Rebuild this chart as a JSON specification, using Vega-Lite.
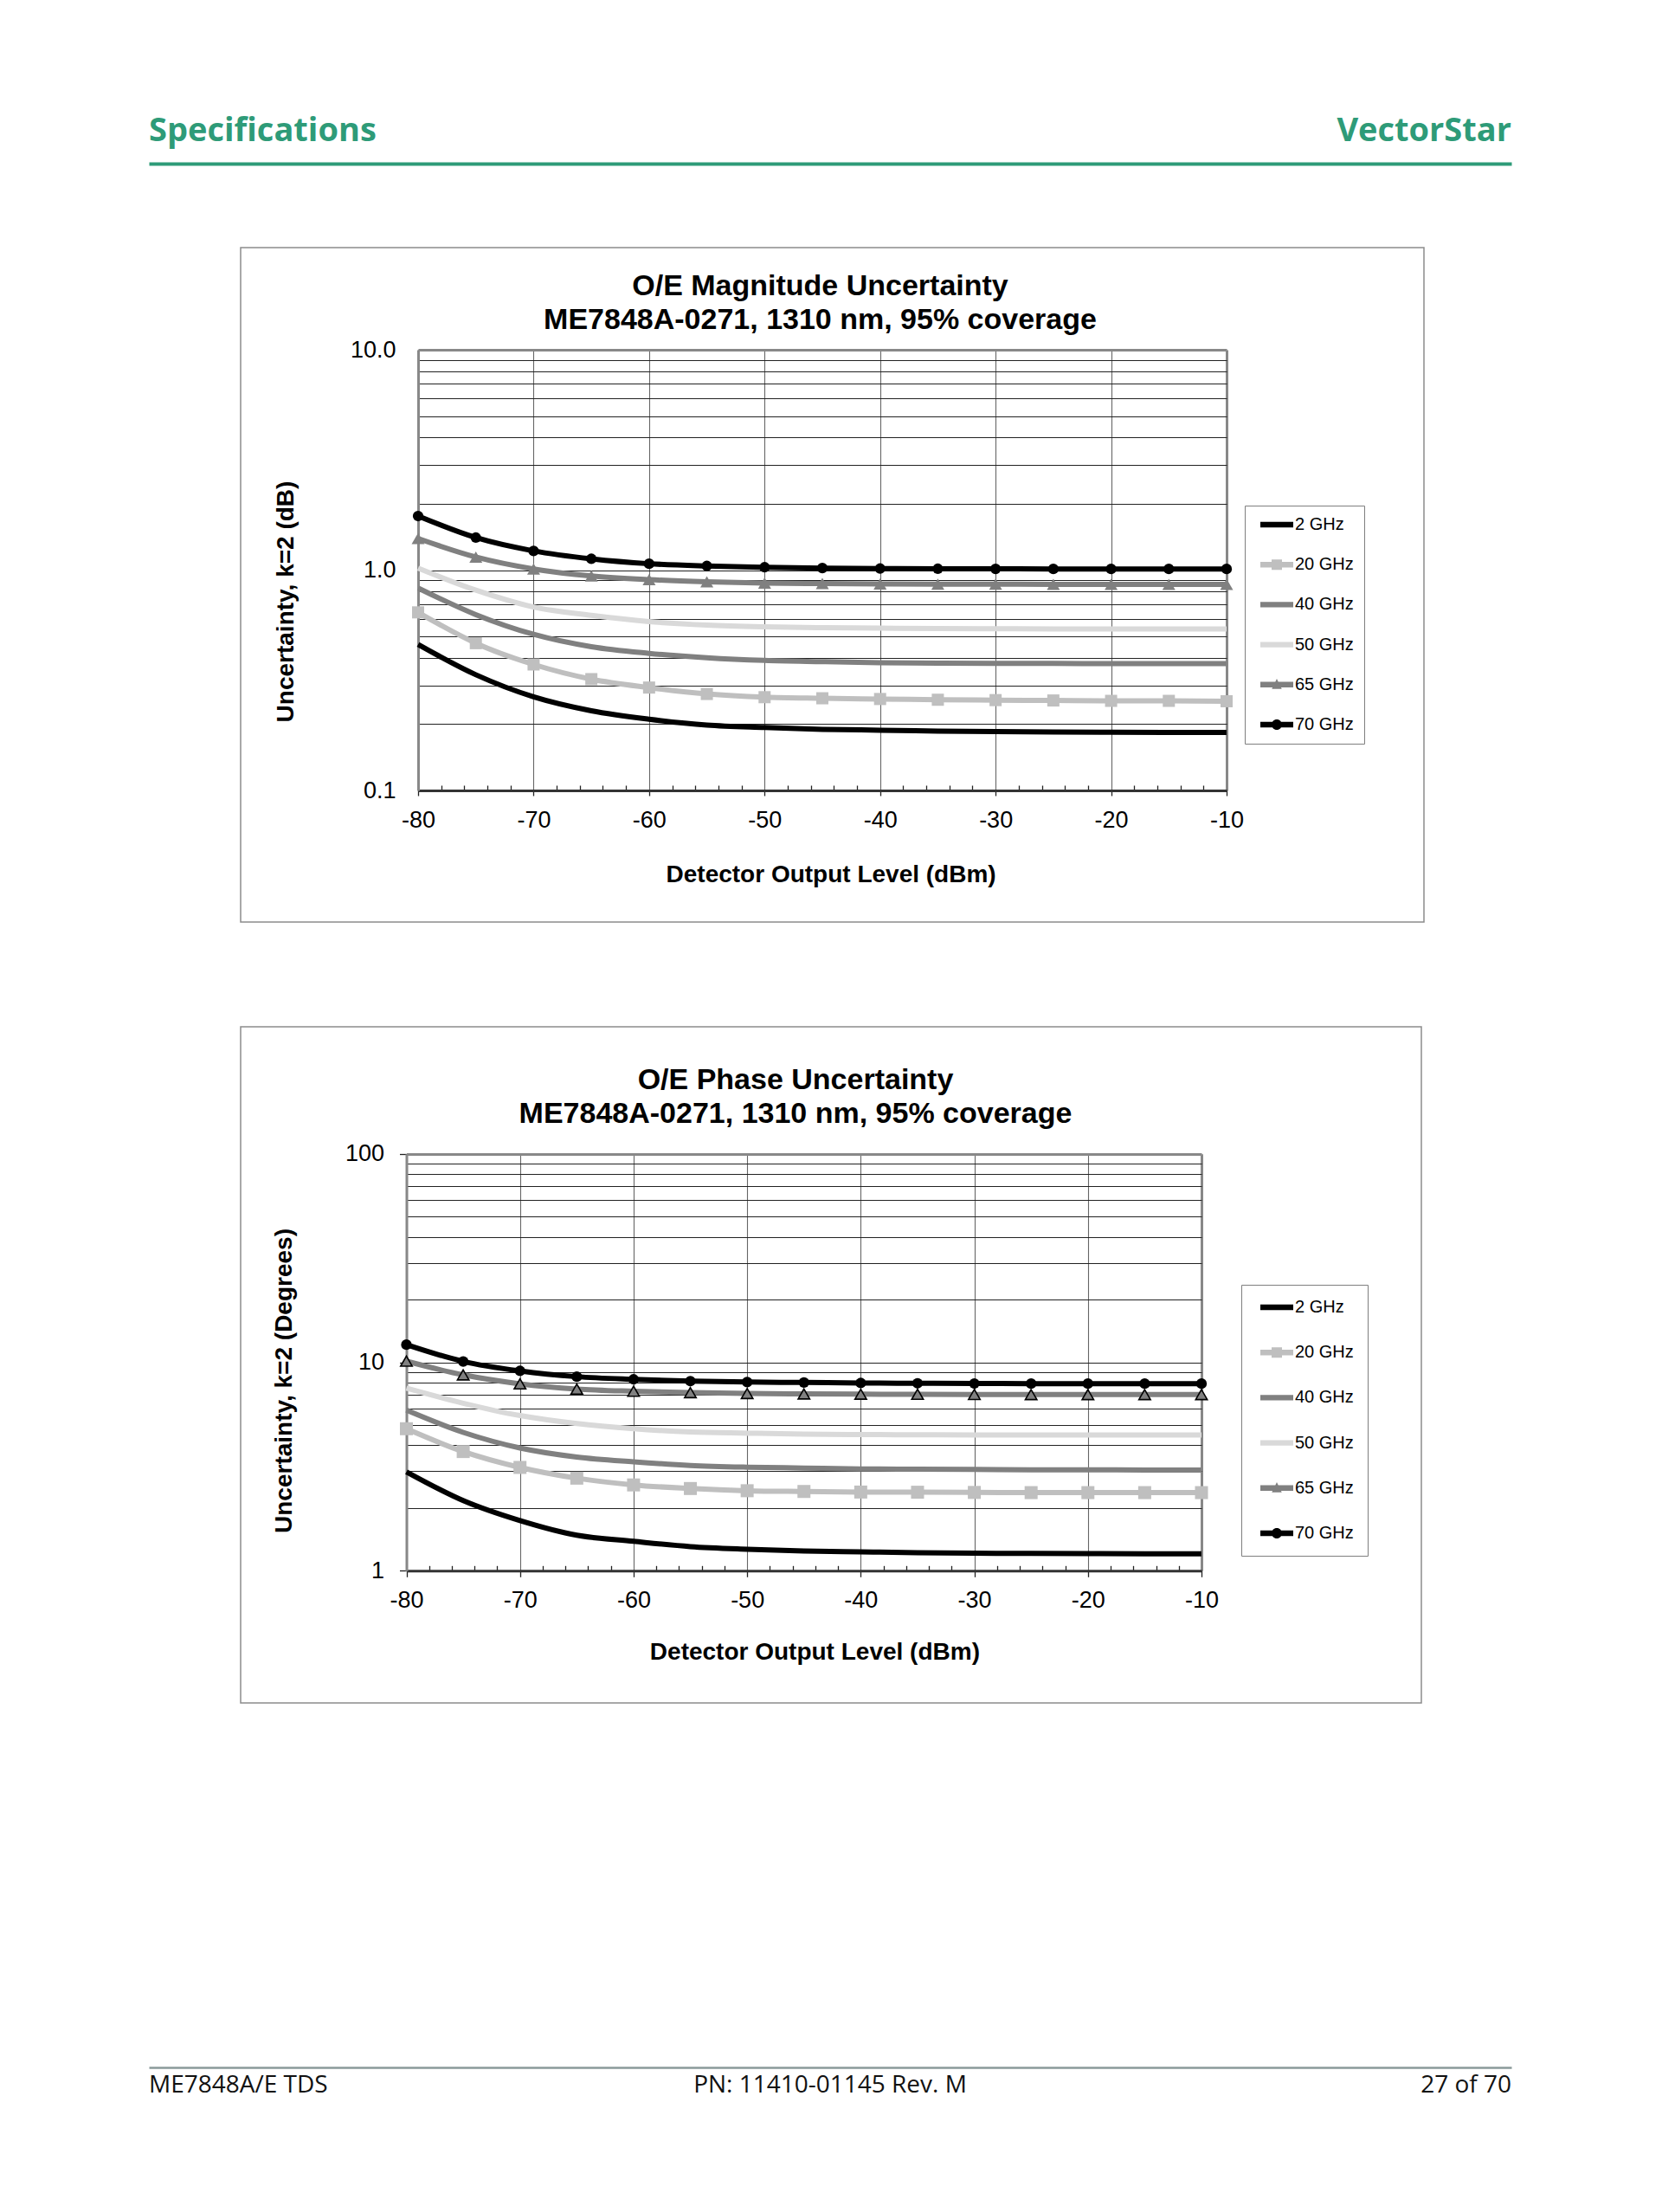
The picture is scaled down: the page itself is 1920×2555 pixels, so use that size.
{
  "$schema": "https://vega.github.io/schema/vega-lite/v6.json",
  "background": "white",
  "padding": {"left": 171, "top": 0, "right": 10, "bottom": 10},
  "bounds": "flush",
  "spacing": 121,
  "resolve": {
    "scale": {"stroke": "independent", "shape": "independent", "fill": "independent"},
    "legend": {"stroke": "independent", "shape": "independent", "fill": "independent"}
  },
  "config": {
    "view": {"stroke": "#8c8c8c", "strokeWidth": 1.5},
    "axis": {"labelFont": "Liberation Sans", "titleFont": "Liberation Sans", "labelColor": "#000000", "titleColor": "#000000"},
    "title": {"font": "Liberation Sans", "fontSize": 34, "fontWeight": "bold", "color": "#000000", "anchor": "middle", "frame": "group", "lineHeight": 39.5},
    "legend": {"labelFont": "Liberation Sans", "labelFontSize": 20, "labelColor": "#000000", "symbolSize": 100, "symbolStrokeWidth": 0, "symbolOpacity": 1, "labelOffset": 26, "strokeColor": "#7f7f7f"}
  },
  "datasets": {
    "mag": [
      {"f":"2 GHz","x":-80,"v":0.46},{"f":"2 GHz","x":-75,"v":0.335},{"f":"2 GHz","x":-70,"v":0.266},{"f":"2 GHz","x":-65,"v":0.23},{"f":"2 GHz","x":-60,"v":0.2105},{"f":"2 GHz","x":-55,"v":0.198},{"f":"2 GHz","x":-50,"v":0.193},{"f":"2 GHz","x":-45,"v":0.1894},{"f":"2 GHz","x":-40,"v":0.1877},{"f":"2 GHz","x":-35,"v":0.186},{"f":"2 GHz","x":-30,"v":0.1848},{"f":"2 GHz","x":-25,"v":0.184},{"f":"2 GHz","x":-20,"v":0.1836},{"f":"2 GHz","x":-15,"v":0.1834},{"f":"2 GHz","x":-10,"v":0.1834},
      {"f":"20 GHz","x":-80,"v":0.643},{"f":"20 GHz","x":-75,"v":0.466},{"f":"20 GHz","x":-70,"v":0.373},{"f":"20 GHz","x":-65,"v":0.32},{"f":"20 GHz","x":-60,"v":0.293},{"f":"20 GHz","x":-55,"v":0.274},{"f":"20 GHz","x":-50,"v":0.265},{"f":"20 GHz","x":-45,"v":0.262},{"f":"20 GHz","x":-40,"v":0.26},{"f":"20 GHz","x":-35,"v":0.258},{"f":"20 GHz","x":-30,"v":0.257},{"f":"20 GHz","x":-25,"v":0.256},{"f":"20 GHz","x":-20,"v":0.255},{"f":"20 GHz","x":-15,"v":0.255},{"f":"20 GHz","x":-10,"v":0.254},
      {"f":"40 GHz","x":-80,"v":0.829},{"f":"40 GHz","x":-75,"v":0.628},{"f":"40 GHz","x":-70,"v":0.511},{"f":"40 GHz","x":-65,"v":0.449},{"f":"40 GHz","x":-60,"v":0.419},{"f":"40 GHz","x":-55,"v":0.4},{"f":"40 GHz","x":-50,"v":0.389},{"f":"40 GHz","x":-45,"v":0.384},{"f":"40 GHz","x":-40,"v":0.38},{"f":"40 GHz","x":-35,"v":0.378},{"f":"40 GHz","x":-30,"v":0.377},{"f":"40 GHz","x":-25,"v":0.377},{"f":"40 GHz","x":-20,"v":0.376},{"f":"40 GHz","x":-15,"v":0.376},{"f":"40 GHz","x":-10,"v":0.376},
      {"f":"50 GHz","x":-80,"v":1.021},{"f":"50 GHz","x":-75,"v":0.811},{"f":"50 GHz","x":-70,"v":0.68},{"f":"50 GHz","x":-65,"v":0.623},{"f":"50 GHz","x":-60,"v":0.584},{"f":"50 GHz","x":-55,"v":0.563},{"f":"50 GHz","x":-50,"v":0.553},{"f":"50 GHz","x":-45,"v":0.548},{"f":"50 GHz","x":-40,"v":0.545},{"f":"50 GHz","x":-35,"v":0.543},{"f":"50 GHz","x":-30,"v":0.542},{"f":"50 GHz","x":-25,"v":0.541},{"f":"50 GHz","x":-20,"v":0.541},{"f":"50 GHz","x":-15,"v":0.541},{"f":"50 GHz","x":-10,"v":0.54},
      {"f":"65 GHz","x":-80,"v":1.391},{"f":"65 GHz","x":-75,"v":1.146},{"f":"65 GHz","x":-70,"v":1.012},{"f":"65 GHz","x":-65,"v":0.94},{"f":"65 GHz","x":-60,"v":0.905},{"f":"65 GHz","x":-55,"v":0.885},{"f":"65 GHz","x":-50,"v":0.873},{"f":"65 GHz","x":-45,"v":0.869},{"f":"65 GHz","x":-40,"v":0.866},{"f":"65 GHz","x":-35,"v":0.864},{"f":"65 GHz","x":-30,"v":0.863},{"f":"65 GHz","x":-25,"v":0.862},{"f":"65 GHz","x":-20,"v":0.862},{"f":"65 GHz","x":-15,"v":0.862},{"f":"65 GHz","x":-10,"v":0.862},
      {"f":"70 GHz","x":-80,"v":1.76},{"f":"70 GHz","x":-75,"v":1.404},{"f":"70 GHz","x":-70,"v":1.222},{"f":"70 GHz","x":-65,"v":1.125},{"f":"70 GHz","x":-60,"v":1.069},{"f":"70 GHz","x":-55,"v":1.044},{"f":"70 GHz","x":-50,"v":1.03},{"f":"70 GHz","x":-45,"v":1.021},{"f":"70 GHz","x":-40,"v":1.016},{"f":"70 GHz","x":-35,"v":1.014},{"f":"70 GHz","x":-30,"v":1.013},{"f":"70 GHz","x":-25,"v":1.012},{"f":"70 GHz","x":-20,"v":1.012},{"f":"70 GHz","x":-15,"v":1.012},{"f":"70 GHz","x":-10,"v":1.012}
    ],
    "phase": [
      {"f":"2 GHz","x":-80,"v":2.98},{"f":"2 GHz","x":-75,"v":2.17},{"f":"2 GHz","x":-70,"v":1.74},{"f":"2 GHz","x":-65,"v":1.48},{"f":"2 GHz","x":-60,"v":1.384},{"f":"2 GHz","x":-55,"v":1.305},{"f":"2 GHz","x":-50,"v":1.268},{"f":"2 GHz","x":-45,"v":1.244},{"f":"2 GHz","x":-40,"v":1.232},{"f":"2 GHz","x":-35,"v":1.221},{"f":"2 GHz","x":-30,"v":1.214},{"f":"2 GHz","x":-25,"v":1.21},{"f":"2 GHz","x":-20,"v":1.208},{"f":"2 GHz","x":-15,"v":1.207},{"f":"2 GHz","x":-10,"v":1.207},
      {"f":"20 GHz","x":-80,"v":4.8},{"f":"20 GHz","x":-75,"v":3.73},{"f":"20 GHz","x":-70,"v":3.13},{"f":"20 GHz","x":-65,"v":2.78},{"f":"20 GHz","x":-60,"v":2.58},{"f":"20 GHz","x":-55,"v":2.48},{"f":"20 GHz","x":-50,"v":2.42},{"f":"20 GHz","x":-45,"v":2.4},{"f":"20 GHz","x":-40,"v":2.385},{"f":"20 GHz","x":-35,"v":2.38},{"f":"20 GHz","x":-30,"v":2.375},{"f":"20 GHz","x":-25,"v":2.37},{"f":"20 GHz","x":-20,"v":2.37},{"f":"20 GHz","x":-15,"v":2.37},{"f":"20 GHz","x":-10,"v":2.37},
      {"f":"40 GHz","x":-80,"v":5.89},{"f":"40 GHz","x":-75,"v":4.61},{"f":"40 GHz","x":-70,"v":3.88},{"f":"40 GHz","x":-65,"v":3.51},{"f":"40 GHz","x":-60,"v":3.33},{"f":"40 GHz","x":-55,"v":3.2},{"f":"40 GHz","x":-50,"v":3.14},{"f":"40 GHz","x":-45,"v":3.11},{"f":"40 GHz","x":-40,"v":3.08},{"f":"40 GHz","x":-35,"v":3.07},{"f":"40 GHz","x":-30,"v":3.06},{"f":"40 GHz","x":-25,"v":3.05},{"f":"40 GHz","x":-20,"v":3.05},{"f":"40 GHz","x":-15,"v":3.04},{"f":"40 GHz","x":-10,"v":3.04},
      {"f":"50 GHz","x":-80,"v":7.51},{"f":"50 GHz","x":-75,"v":6.36},{"f":"50 GHz","x":-70,"v":5.55},{"f":"50 GHz","x":-65,"v":5.08},{"f":"50 GHz","x":-60,"v":4.8},{"f":"50 GHz","x":-55,"v":4.63},{"f":"50 GHz","x":-50,"v":4.57},{"f":"50 GHz","x":-45,"v":4.52},{"f":"50 GHz","x":-40,"v":4.5},{"f":"50 GHz","x":-35,"v":4.49},{"f":"50 GHz","x":-30,"v":4.48},{"f":"50 GHz","x":-25,"v":4.48},{"f":"50 GHz","x":-20,"v":4.48},{"f":"50 GHz","x":-15,"v":4.48},{"f":"50 GHz","x":-10,"v":4.48},
      {"f":"65 GHz","x":-80,"v":10.12},{"f":"65 GHz","x":-75,"v":8.7},{"f":"65 GHz","x":-70,"v":7.88},{"f":"65 GHz","x":-65,"v":7.44},{"f":"65 GHz","x":-60,"v":7.26},{"f":"65 GHz","x":-55,"v":7.15},{"f":"65 GHz","x":-50,"v":7.08},{"f":"65 GHz","x":-45,"v":7.05},{"f":"65 GHz","x":-40,"v":7.03},{"f":"65 GHz","x":-35,"v":7.02},{"f":"65 GHz","x":-30,"v":7.01},{"f":"65 GHz","x":-25,"v":7.0},{"f":"65 GHz","x":-20,"v":7.0},{"f":"65 GHz","x":-15,"v":7.0},{"f":"65 GHz","x":-10,"v":7.0},
      {"f":"70 GHz","x":-80,"v":12.15},{"f":"70 GHz","x":-75,"v":10.09},{"f":"70 GHz","x":-70,"v":9.09},{"f":"70 GHz","x":-65,"v":8.53},{"f":"70 GHz","x":-60,"v":8.28},{"f":"70 GHz","x":-55,"v":8.12},{"f":"70 GHz","x":-50,"v":8.04},{"f":"70 GHz","x":-45,"v":8.0},{"f":"70 GHz","x":-40,"v":7.95},{"f":"70 GHz","x":-35,"v":7.93},{"f":"70 GHz","x":-30,"v":7.91},{"f":"70 GHz","x":-25,"v":7.9},{"f":"70 GHz","x":-20,"v":7.9},{"f":"70 GHz","x":-15,"v":7.9},{"f":"70 GHz","x":-10,"v":7.9}
    ]
  },
  "vconcat": [
    {
      "width": 1366, "height": 164,
      "view": {"stroke": "transparent"},
      "data": {"values": [{"h": "Specifications", "side": "L"}, {"h": "VectorStar", "side": "R"}]},
      "encoding": {
        "x": {"field": "side", "type": "nominal", "scale": {"type": "point", "domain": ["L", "R"], "range": [-106, 1468], "padding": 0},
          "axis": {"orient": "top", "offset": -188, "labels": false, "ticks": false, "grid": false, "title": null, "domainColor": "#2e9b78", "domainWidth": 4}},
        "text": {"field": "h"}
      },
      "layer": [
        {"transform": [{"filter": "datum.side === 'L'"}], "mark": {"type": "text", "align": "left", "baseline": "alphabetic", "dy": 80, "font": "Open Sans", "fontWeight": "bold", "fontSize": 38, "color": "#2e9b78"}},
        {"transform": [{"filter": "datum.side === 'R'"}], "mark": {"type": "text", "align": "right", "baseline": "alphabetic", "dy": 80, "font": "Open Sans", "fontWeight": "bold", "fontSize": 38, "color": "#2e9b78"}}
      ]
    },
    {
      "width": 1367, "height": 779,
      "data": {"name": "mag"},
      "title": {"text": ["O/E Magnitude Uncertainty", "ME7848A-0271, 1310 nm, 95% coverage"], "offset": -101, "dx": -14},
      "resolve": {"axis": {"x": "independent"}},
      "layer": [
        {
          "mark": {"type": "line", "interpolate": "monotone", "strokeWidth": 6},
          "encoding": {
            "x": {"field": "x", "type": "quantitative",
              "scale": {"domain": [-80, -10], "range": [205, 1139], "nice": false, "zero": false},
              "axis": {"orient": "bottom", "offset": -152, "grid": false,
                "values": [-80,-78,-76,-74,-72,-70,-68,-66,-64,-62,-60,-58,-56,-54,-52,-50,-48,-46,-44,-42,-40,-38,-36,-34,-32,-30,-28,-26,-24,-22,-20,-18,-16,-14,-12,-10],
                "labelExpr": "datum.value % 10 === 0 ? '' + datum.value : ''",
                "tickSize": {"condition": {"test": "datum.value % 10 === 0", "value": 6}, "value": -6},
                "tickColor": "#222222", "tickWidth": 1.3,
                "labelPadding": 15, "labelFontSize": 27, "labelFlush": false, "labelOverlap": false,
                "domainColor": "#333333", "domainWidth": 3,
                "title": "Detector Output Level (dBm)", "titleFontSize": 28, "titleFontWeight": "bold",
                "titleX": 681.6, "titleY": 97, "titleAlign": "center", "titleBaseline": "middle"}},
            "y": {"field": "v", "type": "quantitative",
              "scale": {"type": "log", "domain": [0.1, 10], "range": [627, 118], "nice": false},
              "axis": {"orient": "left", "offset": -205,
                "values": [0.1,0.2,0.3,0.4,0.5,0.6,0.7,0.8,0.9,1,2,3,4,5,6,7,8,9,10],
                "labelExpr": "datum.value === 0.1 || datum.value === 1 || datum.value === 10 ? format(datum.value, '.1f') : ''",
                "ticks": false, "labelPadding": 26, "labelFontSize": 27, "labelFlush": false, "labelOverlap": false,
                "domainColor": "#888888", "domainWidth": 3,
                "grid": true,
                "gridColor": {"condition": {"test": "datum.value === 10", "value": "#888888"}, "value": "#222222"},
                "gridWidth": {"condition": {"test": "datum.value === 10", "value": 3}, "value": 1.2},
                "title": "Uncertainty, k=2 (dB)", "titleFontSize": 28, "titleFontWeight": "bold",
                "titleX": -152.4, "titleY": 408.5, "titleAngle": 270, "titleAlign": "center", "titleBaseline": "middle"}},
            "stroke": {"field": "f", "type": "nominal",
              "scale": {"domain": ["2 GHz", "20 GHz", "40 GHz", "50 GHz", "65 GHz", "70 GHz"], "range": ["#000000", "#bfbfbf", "#808080", "#d9d9d9", "#808080", "#000000"]},
              "legend": {"orient": "none", "legendX": 1160, "legendY": 298, "padding": 12, "rowPadding": 26.2, "title": null, "labelExpr": "datum.label + '\u00a0'"}}
          }
        },
        {
          "transform": [{"filter": "false"}],
          "mark": {"type": "point", "filled": true, "opacity": 1},
          "encoding": {
            "x": {"field": "x", "type": "quantitative", "axis": null},
            "y": {"field": "v", "type": "quantitative"},
            "shape": {"field": "f", "type": "nominal",
              "scale": {"domain": ["2 GHz", "20 GHz", "40 GHz", "50 GHz", "65 GHz", "70 GHz"],
                "range": ["M-0.8,-0.64H6.8V0.64H-0.8Z", "M-0.8,-0.64H6.8V0.64H-0.8ZM1.8,-1.2H4.2V1.2H1.8Z", "M-0.8,-0.64H6.8V0.64H-0.8Z", "M-0.8,-0.64H6.8V0.64H-0.8Z", "M-0.8,-0.64H6.8V0.64H-0.8ZM3,-1.35L4.15,1L1.85,1Z", "M-0.8,-0.64H6.8V0.64H-0.8ZM1.8,0A1.2,1.2 0 1,1 4.2,0A1.2,1.2 0 1,1 1.8,0Z"]}},
            "fill": {"field": "f", "type": "nominal",
              "scale": {"domain": ["2 GHz", "20 GHz", "40 GHz", "50 GHz", "65 GHz", "70 GHz"],
                "range": ["#000000", "#bfbfbf", "#808080", "#d9d9d9", "#808080", "#000000"]}}
          }
        },
        {
          "transform": [{"filter": "datum.f === '20 GHz'"}],
          "mark": {"type": "point", "shape": "square", "filled": true, "size": 196, "color": "#bfbfbf", "opacity": 1},
          "encoding": {
            "x": {"field": "x", "type": "quantitative",
              "axis": {"orient": "top", "grid": true, "labels": false, "ticks": false, "domain": false, "title": null,
                "values": [-80,-70,-60,-50,-40,-30,-20,-10],
                "gridColor": {"condition": {"test": "datum.value === -10", "value": "#888888"}, "value": "#666666"},
                "gridWidth": {"condition": {"test": "datum.value === -10", "value": 3}, "value": 1.1}}},
            "y": {"field": "v", "type": "quantitative"}
          }
        },
        {
          "transform": [{"filter": "datum.f === '65 GHz'"}],
          "mark": {"type": "point", "shape": "triangle-up", "filled": true, "size": 225, "color": "#808080", "opacity": 1},
          "encoding": {
            "x": {"field": "x", "type": "quantitative", "axis": null},
            "y": {"field": "v", "type": "quantitative"}
          }
        },
        {
          "transform": [{"filter": "datum.f === '70 GHz'"}],
          "mark": {"type": "point", "shape": "circle", "filled": true, "size": 150, "color": "#000000", "opacity": 1},
          "encoding": {
            "x": {"field": "x", "type": "quantitative", "axis": null},
            "y": {"field": "v", "type": "quantitative"}
          }
        }
      ]
    },
    {
      "width": 1364, "height": 781,
      "data": {"name": "phase"},
      "title": {"text": ["O/E Phase Uncertainty", "ME7848A-0271, 1310 nm, 95% coverage"], "offset": -118, "dx": -41},
      "resolve": {"axis": {"x": "independent"}},
      "layer": [
        {
          "mark": {"type": "line", "interpolate": "monotone", "strokeWidth": 6},
          "encoding": {
            "x": {"field": "x", "type": "quantitative",
              "scale": {"domain": [-80, -10], "range": [191.5, 1110], "nice": false, "zero": false},
              "axis": {"orient": "bottom", "offset": -152.7, "grid": false,
                "values": [-80,-78,-76,-74,-72,-70,-68,-66,-64,-62,-60,-58,-56,-54,-52,-50,-48,-46,-44,-42,-40,-38,-36,-34,-32,-30,-28,-26,-24,-22,-20,-18,-16,-14,-12,-10],
                "labelExpr": "datum.value % 10 === 0 ? '' + datum.value : ''",
                "tickSize": {"condition": {"test": "datum.value % 10 === 0", "value": 7}, "value": -6},
                "tickColor": "#222222", "tickWidth": 1.3,
                "labelPadding": 14, "labelFontSize": 27, "labelFlush": false, "labelOverlap": false,
                "domainColor": "#333333", "domainWidth": 3,
                "title": "Detector Output Level (dBm)", "titleFontSize": 28, "titleFontWeight": "bold",
                "titleX": 662.9, "titleY": 94.5, "titleAlign": "center", "titleBaseline": "middle"}},
            "y": {"field": "v", "type": "quantitative",
              "scale": {"type": "log", "domain": [1, 100], "range": [628.3, 146.7], "nice": false},
              "axis": {"orient": "left", "offset": -191.5,
                "values": [1,2,3,4,5,6,7,8,9,10,20,30,40,50,60,70,80,90,100],
                "labelExpr": "datum.value === 1 || datum.value === 10 || datum.value === 100 ? '' + datum.value : ''",
                "ticks": true, "tickSize": 8, "tickColor": "#222222", "tickWidth": 1.3,
                "tickOpacity": {"condition": {"test": "datum.value === 1 || datum.value === 10 || datum.value === 100", "value": 1}, "value": 0},
                "labelPadding": 18, "labelFontSize": 27, "labelFlush": false, "labelOverlap": false,
                "domainColor": "#888888", "domainWidth": 3,
                "grid": true,
                "gridColor": {"condition": {"test": "datum.value === 100", "value": "#888888"}, "value": "#222222"},
                "gridWidth": {"condition": {"test": "datum.value === 100", "value": 3}, "value": 1.2},
                "title": "Uncertainty, k=2 (Degrees)", "titleFontSize": 28, "titleFontWeight": "bold",
                "titleX": -140.9, "titleY": 408.5, "titleAngle": 270, "titleAlign": "center", "titleBaseline": "middle"}},
            "stroke": {"field": "f", "type": "nominal",
              "scale": {"domain": ["2 GHz", "20 GHz", "40 GHz", "50 GHz", "65 GHz", "70 GHz"], "range": ["#000000", "#bfbfbf", "#808080", "#d9d9d9", "#808080", "#000000"]},
              "legend": {"orient": "none", "legendX": 1156, "legendY": 298, "padding": 16, "rowPadding": 32.2, "title": null, "labelExpr": "datum.label + '\u00a0\u00a0'"}}
          }
        },
        {
          "transform": [{"filter": "false"}],
          "mark": {"type": "point", "filled": true, "opacity": 1},
          "encoding": {
            "x": {"field": "x", "type": "quantitative", "axis": null},
            "y": {"field": "v", "type": "quantitative"},
            "shape": {"field": "f", "type": "nominal",
              "scale": {"domain": ["2 GHz", "20 GHz", "40 GHz", "50 GHz", "65 GHz", "70 GHz"],
                "range": ["M-0.8,-0.64H6.8V0.64H-0.8Z", "M-0.8,-0.64H6.8V0.64H-0.8ZM1.8,-1.2H4.2V1.2H1.8Z", "M-0.8,-0.64H6.8V0.64H-0.8Z", "M-0.8,-0.64H6.8V0.64H-0.8Z", "M-0.8,-0.64H6.8V0.64H-0.8ZM3,-1.35L4.15,1L1.85,1Z", "M-0.8,-0.64H6.8V0.64H-0.8ZM1.8,0A1.2,1.2 0 1,1 4.2,0A1.2,1.2 0 1,1 1.8,0Z"]}},
            "fill": {"field": "f", "type": "nominal",
              "scale": {"domain": ["2 GHz", "20 GHz", "40 GHz", "50 GHz", "65 GHz", "70 GHz"],
                "range": ["#000000", "#bfbfbf", "#808080", "#d9d9d9", "#808080", "#000000"]}}
          }
        },
        {
          "transform": [{"filter": "datum.f === '20 GHz'"}],
          "mark": {"type": "point", "shape": "square", "filled": true, "size": 225, "color": "#bfbfbf", "opacity": 1},
          "encoding": {
            "x": {"field": "x", "type": "quantitative",
              "axis": {"orient": "top", "grid": true, "labels": false, "ticks": false, "domain": false, "title": null,
                "values": [-80,-70,-60,-50,-40,-30,-20,-10],
                "gridColor": {"condition": {"test": "datum.value === -10", "value": "#888888"}, "value": "#666666"},
                "gridWidth": {"condition": {"test": "datum.value === -10", "value": 3}, "value": 1.1}}},
            "y": {"field": "v", "type": "quantitative"}
          }
        },
        {
          "transform": [{"filter": "datum.f === '65 GHz'"}],
          "mark": {"type": "point", "shape": "triangle-up", "filled": true, "size": 180, "fill": "#808080", "stroke": "#000000", "strokeWidth": 1.6, "opacity": 1},
          "encoding": {
            "x": {"field": "x", "type": "quantitative", "axis": null},
            "y": {"field": "v", "type": "quantitative"}
          }
        },
        {
          "transform": [{"filter": "datum.f === '70 GHz'"}],
          "mark": {"type": "point", "shape": "circle", "filled": true, "size": 150, "color": "#000000", "opacity": 1},
          "encoding": {
            "x": {"field": "x", "type": "quantitative", "axis": null},
            "y": {"field": "v", "type": "quantitative"}
          }
        }
      ]
    },
    {
      "width": 1366, "height": 400,
      "view": {"stroke": "transparent"},
      "data": {"values": [{"t": "ME7848A/E TDS", "side": "L"}, {"t": "PN: 11410-01145  Rev. M", "side": "C"}, {"t": "27 of 70", "side": "R"}]},
      "encoding": {
        "x": {"field": "side", "type": "nominal", "scale": {"type": "point", "domain": ["L", "C", "R"], "range": [-106, 1468], "padding": 0},
          "axis": {"orient": "top", "offset": -300, "labels": false, "ticks": false, "grid": false, "title": null, "domainColor": "#8a9a9a", "domainWidth": 2.5}},
        "text": {"field": "t"}
      },
      "layer": [
        {"transform": [{"filter": "datum.side === 'L'"}], "mark": {"type": "text", "align": "left", "baseline": "alphabetic", "dy": 129, "font": "Open Sans", "fontSize": 28, "color": "#111111"}},
        {"transform": [{"filter": "datum.side === 'C'"}], "mark": {"type": "text", "align": "center", "baseline": "alphabetic", "dy": 129, "font": "Open Sans", "fontSize": 28, "color": "#111111"}},
        {"transform": [{"filter": "datum.side === 'R'"}], "mark": {"type": "text", "align": "right", "baseline": "alphabetic", "dy": 129, "font": "Open Sans", "fontSize": 28, "color": "#111111"}}
      ]
    }
  ]
}
